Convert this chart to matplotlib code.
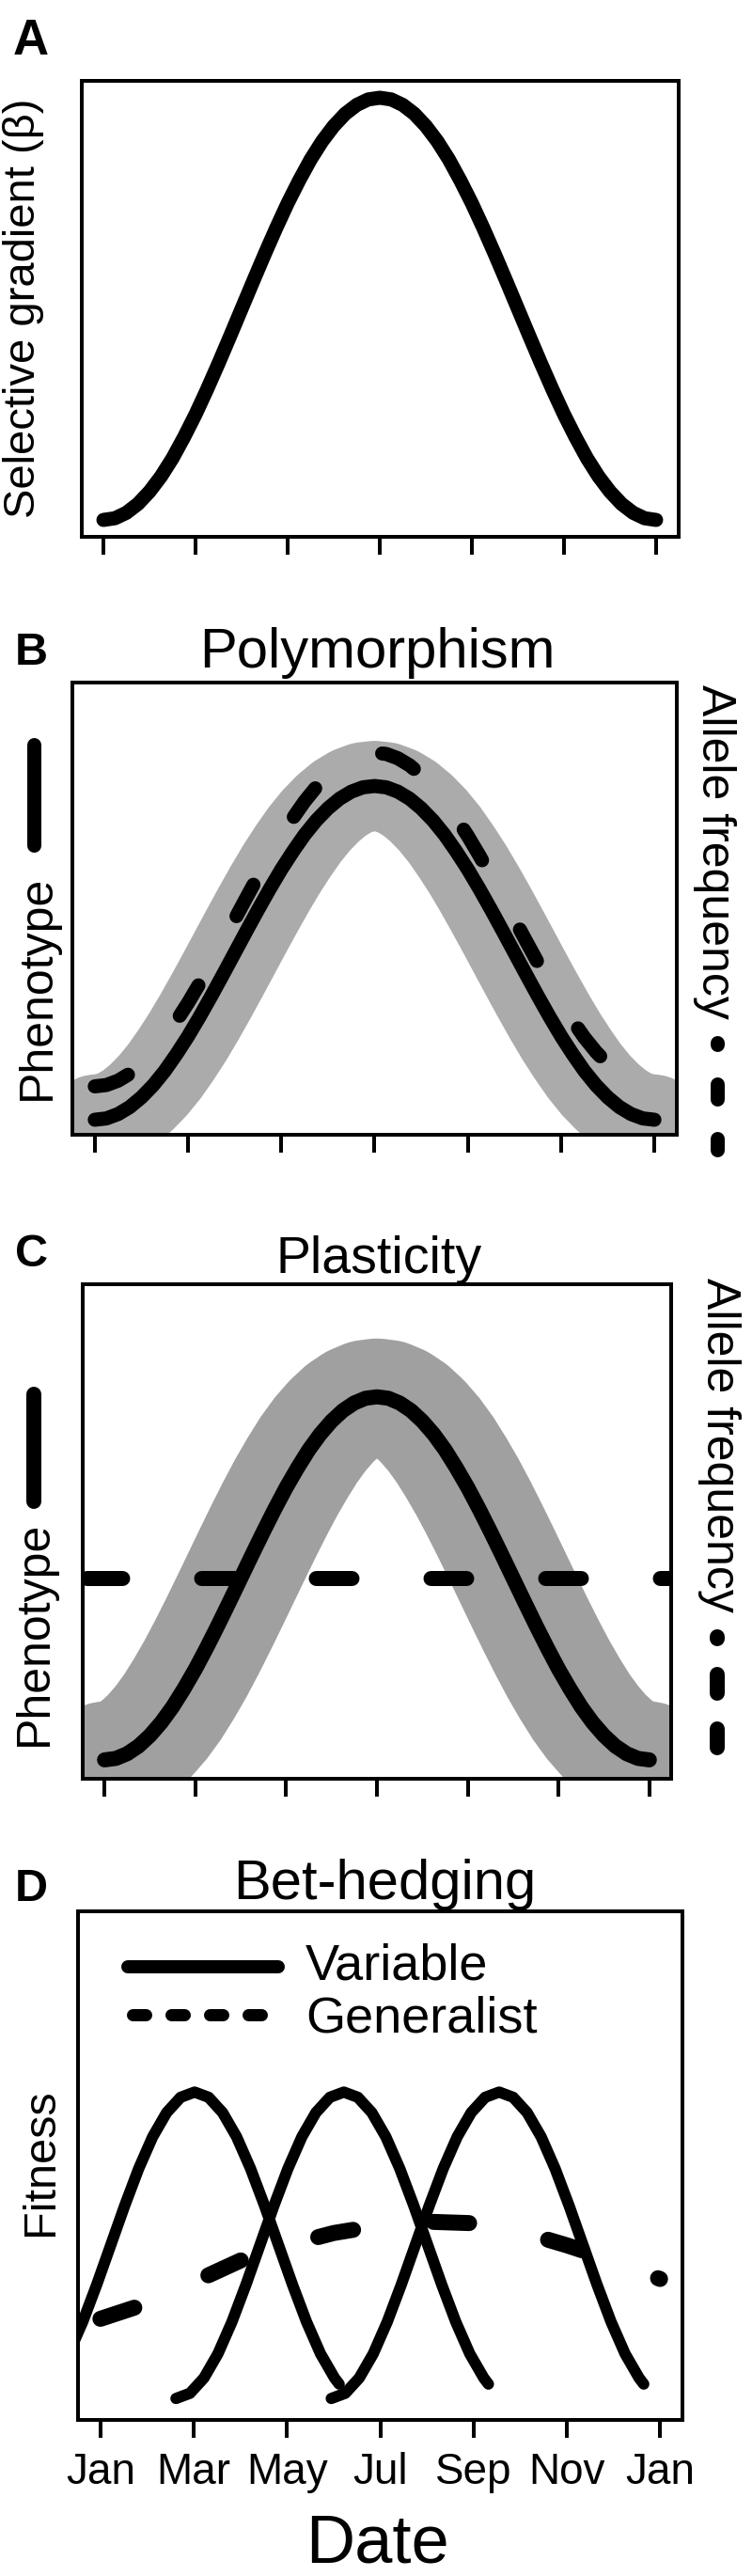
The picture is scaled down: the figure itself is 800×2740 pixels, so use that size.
import numpy as np
import matplotlib
matplotlib.use('Agg')
import matplotlib.pyplot as plt
from matplotlib.lines import Line2D

plt.rcParams['font.family'] = ['Liberation Sans', 'DejaVu Sans']
plt.rcParams['lines.scale_dashes'] = False

W, H, DPI = 800, 2740, 100
PT = 72.0 / DPI  # points per pixel

# ---------------- data ----------------
month_ticks = [0, 2, 4, 6, 8, 10, 12]
month_labels = ['Jan', 'Mar', 'May', 'Jul', 'Sep', 'Nov', 'Jan']

# sample dates (months since Jan) for panels A-C
date_x = np.arange(0, 12.001, 0.25)

selective_gradient = [0.000, 0.004, 0.017, 0.038, 0.067, 0.103, 0.146, 0.196, 0.250, 0.309,
                      0.371, 0.435, 0.500, 0.565, 0.629, 0.691, 0.750, 0.804, 0.854, 0.897,
                      0.933, 0.962, 0.983, 0.996, 1.000, 0.996, 0.983, 0.962, 0.933, 0.897,
                      0.854, 0.804, 0.750, 0.691, 0.629, 0.565, 0.500, 0.435, 0.371, 0.309,
                      0.250, 0.196, 0.146, 0.103, 0.067, 0.038, 0.017, 0.004, 0.000]

poly_phenotype = [0.000, 0.004, 0.017, 0.038, 0.067, 0.103, 0.146, 0.196, 0.250, 0.309,
                  0.371, 0.435, 0.500, 0.565, 0.629, 0.691, 0.750, 0.804, 0.854, 0.897,
                  0.933, 0.962, 0.983, 0.996, 1.000, 0.996, 0.983, 0.962, 0.933, 0.897,
                  0.854, 0.804, 0.750, 0.691, 0.629, 0.565, 0.500, 0.435, 0.371, 0.309,
                  0.250, 0.196, 0.146, 0.103, 0.067, 0.038, 0.017, 0.004, 0.000]

poly_allele = [0.100, 0.104, 0.117, 0.138, 0.167, 0.203, 0.246, 0.296, 0.350, 0.409,
               0.471, 0.535, 0.600, 0.665, 0.729, 0.791, 0.850, 0.904, 0.954, 0.997,
               1.033, 1.062, 1.083, 1.096, 1.100, 1.096, 1.083, 1.062, 1.033, 0.997,
               0.954, 0.904, 0.850, 0.791, 0.729, 0.665, 0.600, 0.535, 0.471, 0.409,
               0.350, 0.296, 0.246, 0.203, 0.167, 0.138, 0.117, 0.104, 0.100]

plast_phenotype = [0.000, 0.004, 0.017, 0.038, 0.067, 0.103, 0.146, 0.196, 0.250, 0.309,
                   0.371, 0.435, 0.500, 0.565, 0.629, 0.691, 0.750, 0.804, 0.854, 0.897,
                   0.933, 0.962, 0.983, 0.996, 1.000, 0.996, 0.983, 0.962, 0.933, 0.897,
                   0.854, 0.804, 0.750, 0.691, 0.629, 0.565, 0.500, 0.435, 0.371, 0.309,
                   0.250, 0.196, 0.146, 0.103, 0.067, 0.038, 0.017, 0.004, 0.000]
plast_allele = 0.5

# bet-hedging: three "variable" fitness curves (offset from each peak, in months)
variable_offsets = [-3.6, -3.3, -3.0, -2.7, -2.4, -2.1, -1.8, -1.5, -1.2, -0.9, -0.6, -0.3,
                    0.0, 0.3, 0.6, 0.9, 1.2, 1.5, 1.8, 2.1, 2.4, 2.7, 3.0, 3.1]
variable_fitness = [0.000, 0.017, 0.067, 0.146, 0.250, 0.371, 0.500, 0.629, 0.750, 0.854,
                    0.933, 0.983, 1.000, 0.983, 0.933, 0.854, 0.750, 0.629, 0.500, 0.371,
                    0.250, 0.146, 0.067, 0.047]
variable_peaks = [2.02, 5.22, 8.55]

generalist_x = [0, 1, 2, 3, 4, 5, 6, 7, 8, 9, 10, 11, 12]
generalist_fitness = [0.26, 0.31, 0.38, 0.45, 0.50, 0.54, 0.565, 0.577, 0.572, 0.545, 0.50, 0.45, 0.39]

# ---------------- figure ----------------
fig = plt.figure(figsize=(W / DPI, H / DPI), dpi=DPI)
fig.patch.set_facecolor('white')


def add_ax(l, r, t, b):
    return fig.add_axes([l / W, 1 - b / H, (r - l) / W, (b - t) / H])


def style(ax, ylim, show_labels=False):
    ax.set_xlim(-0.48, 12.48)
    ax.set_ylim(*ylim)
    ax.set_yticks([])
    ax.set_xticks(month_ticks)
    for s in ax.spines.values():
        s.set_linewidth(4 * PT)
    ax.tick_params(axis='x', direction='out', length=19 * PT, width=4 * PT,
                   labelbottom=show_labels, labelsize=33, pad=11)
    if show_labels:
        ax.set_xticklabels(month_labels)


def fx(x):
    return x / W


def fy(y):
    return 1 - y / H


def fig_line(xs, ys, lw_px, ls='-'):
    ln = Line2D([fx(v) for v in xs], [fy(v) for v in ys], transform=fig.transFigure,
                color='black', lw=lw_px * PT, linestyle=ls,
                solid_capstyle='round', dash_capstyle='round')
    fig.add_artist(ln)


BLACK = 'black'

# ---- Panel A ----
axA = add_ax(86.5, 721.5, 86, 571)
axA.plot(date_x, selective_gradient, color=BLACK, lw=15 * PT,
         solid_capstyle='round', solid_joinstyle='round')
style(axA, (-0.04, 1.04))
fig.text(fx(14), fy(58), 'A', fontsize=38, fontweight='bold', ha='left', va='baseline')
fig.text(fx(25), fy(328), 'Selective gradient (\u03b2)', fontsize=34, rotation=90,
         ha='center', va='center')

# ---- Panel B ----
axB = add_ax(77, 720, 726, 1207)
axB.plot(date_x, poly_phenotype, color='#ABABAB', lw=96 * PT,
         solid_capstyle='round', solid_joinstyle='round')
axB.plot(date_x, poly_phenotype, color=BLACK, lw=15 * PT,
         solid_capstyle='round', solid_joinstyle='round')
axB.plot(date_x, poly_allele, color=BLACK, lw=15 * PT,
         linestyle=(0, (38 * PT, 84 * PT)), dash_capstyle='round', dash_joinstyle='round')
style(axB, (-0.045, 1.31))
fig.text(fx(16), fy(707), 'B', fontsize=35, fontweight='bold', ha='left', va='baseline')
fig.text(fx(401), fy(710), 'Polymorphism', fontsize=43, ha='center', va='baseline')
fig.text(fx(40), fy(1050), 'Phenotype', fontsize=36, rotation=90, ha='center', va='center')
fig_line([36, 36], [792, 899], 15)
fig.text(fx(760), fy(906), 'Allele frequency', fontsize=36, rotation=270,
         ha='center', va='center')
fig_line([763, 763], [1108.5, 1222.5], 15, ls=(14 * PT, (16 * PT, 42 * PT)))

# ---- Panel C ----
axC = add_ax(88, 714, 1366, 1892)
axC.plot(date_x, plast_phenotype, color='#A0A0A0', lw=124 * PT,
         solid_capstyle='round', solid_joinstyle='round')
axC.plot(date_x, plast_phenotype, color=BLACK, lw=16 * PT,
         solid_capstyle='round', solid_joinstyle='round')
axC.axhline(plast_allele, color=BLACK, lw=16 * PT,
            linestyle=(117.5 * PT, (38 * PT, 84 * PT)), dash_capstyle='round')
style(axC, (-0.052, 1.31))
fig.text(fx(16), fy(1347), 'C', fontsize=35, fontweight='bold', ha='left', va='baseline')
fig.text(fx(403), fy(1354), 'Plasticity', fontsize=40, ha='center', va='baseline')
fig.text(fx(37), fy(1737), 'Phenotype', fontsize=36, rotation=90, ha='center', va='center')
fig_line([36, 36], [1483, 1597], 16)
fig.text(fx(765), fy(1537), 'Allele frequency', fontsize=36, rotation=270,
         ha='center', va='center')
fig_line([763, 763], [1741, 1859], 16, ls=(18 * PT, (20 * PT, 38 * PT)))

# ---- Panel D ----
axD = add_ax(83, 726, 2033, 2574)
for pk in variable_peaks:
    axD.plot([pk + o for o in variable_offsets], variable_fitness, color=BLACK, lw=12 * PT,
             solid_capstyle='round', solid_joinstyle='round')
axD.plot(generalist_x, generalist_fitness, color=BLACK, lw=17 * PT,
         linestyle=(0, (38 * PT, 86 * PT)), dash_capstyle='round', dash_joinstyle='round')
style(axD, (-0.07, 1.59), show_labels=True)
fig.text(fx(16), fy(2022), 'D', fontsize=35, fontweight='bold', ha='left', va='baseline')
fig.text(fx(409), fy(2020), 'Bet-hedging', fontsize=43, ha='center', va='baseline')
fig.text(fx(43), fy(2300), 'Fitness', fontsize=35, rotation=90, ha='center', va='center')
fig.text(fx(402), fy(2726), 'Date', fontsize=52, ha='center', va='baseline')

# legend
fig_line([136, 296], [2092, 2092], 14)
fig_line([140.5, 277.5], [2143, 2143], 13, ls=(0, (14 * PT, 27 * PT)))
fig.text(fx(325), fy(2105), 'Variable', fontsize=39, ha='left', va='baseline')
fig.text(fx(325), fy(2161), 'Generalist', fontsize=39, ha='left', va='baseline')

fig.savefig('out.png', dpi=DPI, facecolor='white')
